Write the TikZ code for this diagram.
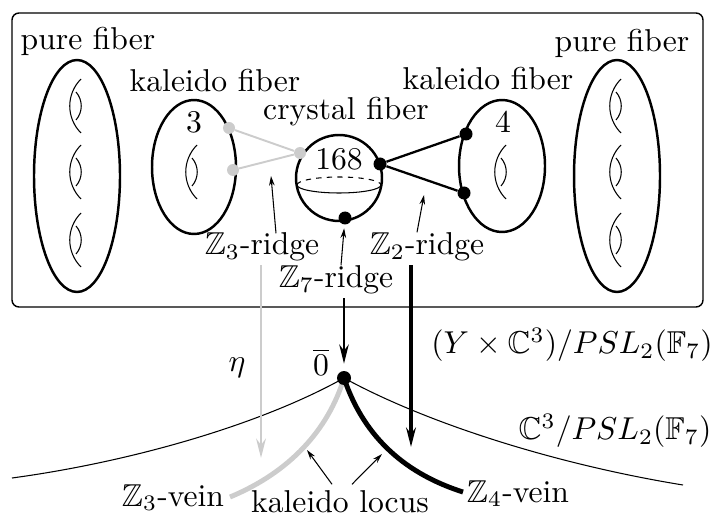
\documentclass[tikz,border=0pt]{standalone}
\usepackage{amssymb}
\usetikzlibrary{arrows.meta}
\definecolor{ridgegray}{gray}{0.8}
\tikzset{
  lbl/.style={font=\normalsize, scale=1.8, inner sep=1pt},
  fiber/.style={line width=1.4pt},
  hole/.style={line width=0.6pt},
  gdot/.style={circle, fill=ridgegray, inner sep=0pt, minimum size=0.24cm},
  bdot/.style={circle, fill=black, inner sep=0pt, minimum size=0.26cm},
  pointer/.style={line width=0.6pt, -{Stealth[length=5.5pt, width=3.2pt]}},
  downarrow/.style={-{Stealth[length=11pt, width=5.5pt]}}
}
\newcommand{\fiberhole}[2]{%
  \draw[hole] (#1+5,#2-27) .. controls (#1-10,#2-12) and (#1-10,#2+12) .. (#1+5,#2+27);
  \draw[hole] (#1,#2-14) .. controls (#1+7,#2-6) and (#1+7,#2+6) .. (#1,#2+14);}
\begin{document}
\begin{tikzpicture}[x=0.02cm, y=-0.02cm, >=Stealth]
  \useasboundingbox (0,0) rectangle (715,516);
  % Fiber box
  \draw[line width=0.8pt, rounded corners=4pt] (12,13) rectangle (703,307);
  % Pure fibers
  \draw[fiber] (77,176) ellipse [x radius=0.86cm, y radius=2.32cm];
  \draw[fiber] (617,176) ellipse [x radius=0.86cm, y radius=2.32cm];
  \foreach \y in {106,172,240} {\fiberhole{76}{\y} \fiberhole{616}{\y}}
  \node[lbl, anchor=base] (pureL) at (88,50) {pure fiber};
  \node[lbl, anchor=base] (pureR) at (622,52) {pure fiber};
  % Kaleido fibers
  \draw[fiber] (194,167) ellipse [x radius=0.84cm, y radius=1.34cm];
  \draw[fiber] (502,166) ellipse [x radius=0.86cm, y radius=1.32cm];
  \fiberhole{192}{172}
  \fiberhole{501}{172}
  \node[lbl, anchor=base] (kalL) at (215,92) {kaleido fiber};
  \node[lbl, anchor=base] (kalR) at (488,90) {kaleido fiber};
  \node[lbl, anchor=base] (ordL) at (194,133) {3};
  \node[lbl, anchor=base] (ordR) at (503,133) {4};
  % Crystal fiber
  \draw[fiber] (339,178) circle [radius=0.86cm];
  \draw[hole] (297,185) arc [start angle=180, end angle=360, x radius=0.84cm, y radius=0.16cm];
  \draw[hole, dashed] (297,185) arc [start angle=180, end angle=0, x radius=0.84cm, y radius=0.16cm];
  \node[lbl, anchor=base] (crys) at (346,120) {crystal fiber};
  \node[lbl, anchor=base] (ordC) at (339,170) {168};
  % Ridges
  \node[gdot] (g1) at (229,128) {};
  \node[gdot] (g2) at (233,170) {};
  \node[gdot] (g3) at (300,153) {};
  \draw[ridgegray, line width=1.1pt] (g1) -- (g3) -- (g2);
  \node[bdot] (b1) at (380,164) {};
  \node[bdot] (b2) at (466,134) {};
  \node[bdot] (b3) at (464,193) {};
  \node[bdot] (b7) at (345,218) {};
  \draw[line width=1.3pt] (b2) -- (b1) -- (b3);
  \node[lbl, anchor=base] (r3) at (262,255) {$\mathbb{Z}_3$-ridge};
  \node[lbl, anchor=base] (r7) at (336,288) {$\mathbb{Z}_7$-ridge};
  \node[lbl, anchor=base] (r2) at (427,255) {$\mathbb{Z}_2$-ridge};
  \coordinate (t3) at (271,176);
  \coordinate (t2) at (424,195);
  \draw[pointer] (r3.north) ++(14,4) -- (t3);
  \draw[pointer, shorten >=2pt] (r7.north) ++(5,3) -- (b7);
  \draw[pointer] (r2.north) ++(-10,3) -- (t2);
  % Base space
  \coordinate (O) at (344,378);
  \draw[line width=0.6pt] (12,478) .. controls (130,462) and (260,425) .. (O)
    .. controls (430,425) and (560,465) .. (683,485);
  \draw[ridgegray, line width=2.8pt] (O) .. controls (328,430) and (290,472) .. (230,497);
  \draw[line width=2.8pt] (O) .. controls (362,432) and (400,472) .. (463,492);
  \node[bdot, minimum size=0.28cm] (d0) at (O) {};
  \node[lbl] (zero) at (321,362) {$\overline{0}$};
  \node[lbl] (eta) at (237,368) {$\eta$};
  \node[lbl] (total) at (572,345) {$(Y\times\mathbb{C}^3)/PSL_2(\mathbb{F}_7)$};
  \node[lbl] (quot) at (615,431) {$\mathbb{C}^3/PSL_2(\mathbb{F}_7)$};
  % Projections
  \coordinate (down3) at (261,458);
  \coordinate (down2) at (411,447);
  \draw[downarrow, ridgegray, line width=1.7pt] (r3.south -| down3) -- (down3);
  \draw[downarrow, line width=2.3pt] (r2.south -| down2) -- (down2);
  \draw[downarrow, line width=0.8pt, shorten >=4pt] (r7.south -| d0) -- (d0);
  % Veins
  \node[lbl, anchor=base] (v3) at (173,506) {$\mathbb{Z}_3$-vein};
  \node[lbl, anchor=base] (v4) at (518,502) {$\mathbb{Z}_4$-vein};
  \node[lbl, anchor=base] (locus) at (340,512) {kaleido locus};
  \coordinate (k3) at (307,450);
  \coordinate (k4) at (382,454);
  \draw[pointer] (locus.north) ++(-8,-2) -- (k3);
  \draw[pointer] (locus.north) ++(12,-2) -- (k4);
\end{tikzpicture}
\end{document}
